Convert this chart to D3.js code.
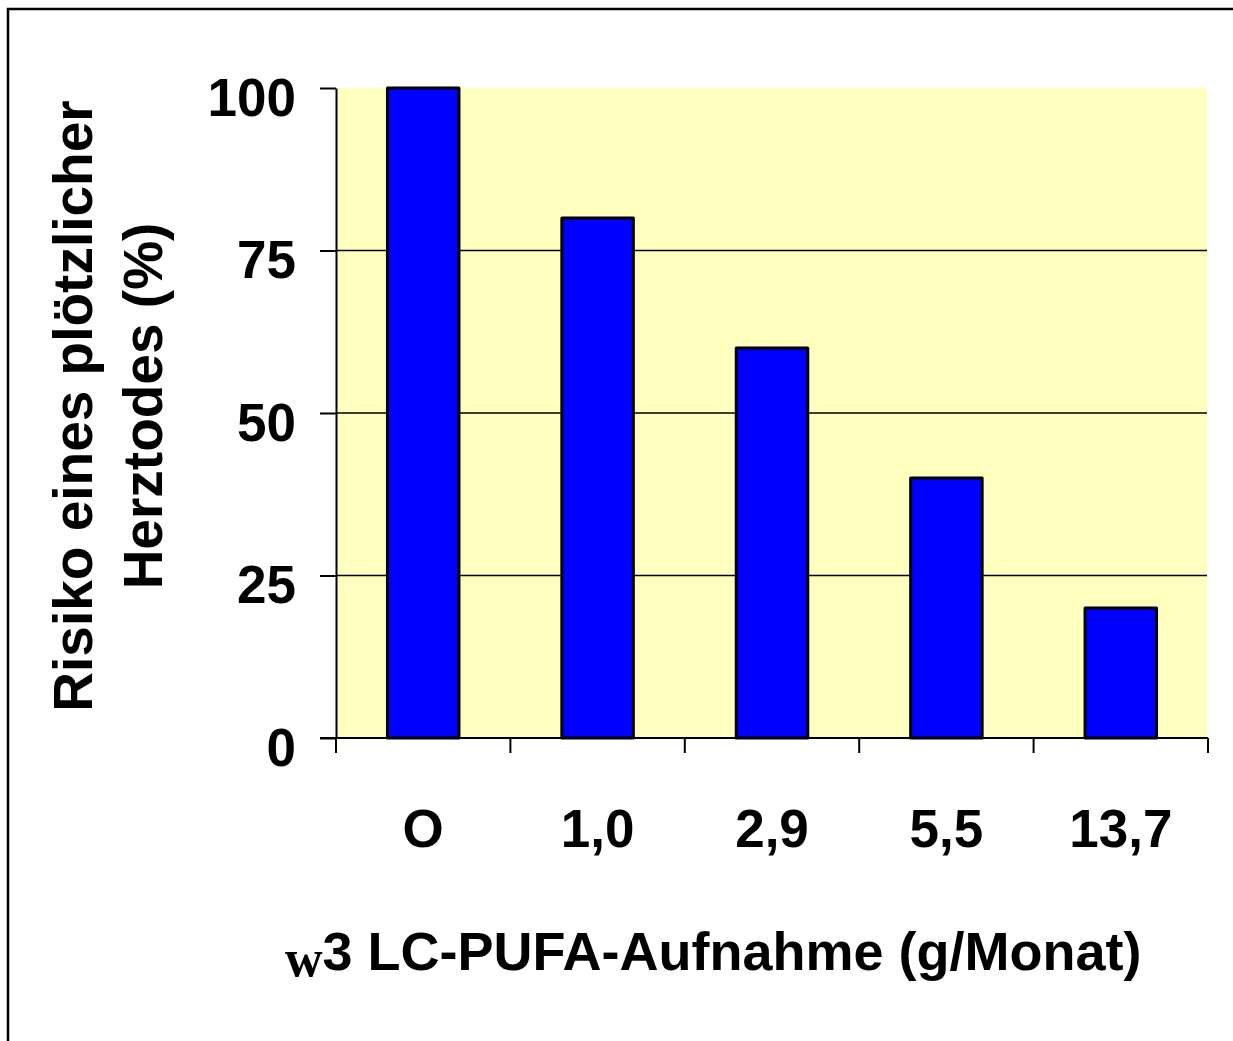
<!DOCTYPE html>
<html>
<head>
<meta charset="utf-8">
<script src="https://cdn.jsdelivr.net/npm/d3@7"></script>
<style>
  body { margin: 0; background: #fff; }
  svg text { font-family: "Liberation Sans", Arial, sans-serif; font-weight: bold; fill: #000; }
</style>
</head>
<body>
<div id="chart"></div>
<script>
// data
var categories = ["O", "1,0", "2,9", "5,5", "13,7"];
var risk = [100, 80, 60, 40, 20];
var yTicks = [0, 25, 50, 75, 100];
var gridTicks = [25, 50, 75];

var width = 1233, height = 1041;
var plotLeft = 336, plotRight = 1208, plotTop = 88, plotBottom = 738;

var svg = d3.select('#chart').append('svg')
    .attr('width', width)
    .attr('height', height);

// outer frame (runs off the right and bottom edge)
svg.append('rect')
    .attr('x', 8).attr('y', 9)
    .attr('width', 1400).attr('height', 1200)
    .attr('fill', 'none')
    .attr('stroke', '#000')
    .attr('stroke-width', 2.5);

var x = d3.scaleBand()
    .domain(categories)
    .range([plotLeft, plotRight])
    .padding(0);

var y = d3.scaleLinear()
    .domain([0, 100])
    .range([plotBottom, plotTop]);

// plot background
svg.append('rect')
    .attr('x', plotLeft).attr('y', y(100))
    .attr('width', plotRight - plotLeft - 1)
    .attr('height', y(0) - y(100))
    .attr('fill', '#FFFFC0');

// gridlines
svg.selectAll('.grid')
    .data(gridTicks)
    .enter().append('line')
    .attr('x1', plotLeft).attr('x2', plotRight - 1)
    .attr('y1', function(d) { return y(d); })
    .attr('y2', function(d) { return y(d); })
    .attr('stroke', '#000')
    .attr('stroke-width', 1.5);

// bars
var barW = x.bandwidth() * 0.41;
svg.selectAll('.bar')
    .data(risk)
    .enter().append('rect')
    .attr('class', 'bar')
    .attr('x', function(d, i) { return x(categories[i]) + (x.bandwidth() - barW) / 2; })
    .attr('y', function(d) { return y(d); })
    .attr('width', barW)
    .attr('height', function(d) { return y(0) - y(d); })
    .attr('fill', '#0000FF')
    .attr('stroke', '#000')
    .attr('stroke-width', 3)
    .attr('stroke-linejoin', 'round');

// y axis
var yAxis = svg.append('g')
    .attr('transform', 'translate(' + plotLeft + ',0)')
    .call(d3.axisLeft(y).tickValues(yTicks).tickSize(16).tickSizeOuter(0).tickPadding(24));
yAxis.select('.domain').attr('stroke-width', 2);
yAxis.selectAll('.tick line').attr('stroke-width', 2);
yAxis.selectAll('.tick text')
    .attr('font-size', 53)
    .attr('dy', '0.51em');

// x axis: labels centred in bands, ticks on band edges
var xAxis = svg.append('g')
    .attr('transform', 'translate(0,' + plotBottom + ')')
    .call(d3.axisBottom(x).tickSize(0).tickPadding(71));
xAxis.select('.domain').remove();
xAxis.selectAll('.tick text').attr('font-size', 53);

svg.append('line')
    .attr('x1', plotLeft - 16).attr('x2', plotRight)
    .attr('y1', plotBottom).attr('y2', plotBottom)
    .attr('stroke', '#000').attr('stroke-width', 2);

var edges = categories.map(function(c) { return x(c); }).concat([plotRight]);
svg.selectAll('.xtick')
    .data(edges)
    .enter().append('line')
    .attr('x1', function(d) { return d; })
    .attr('x2', function(d) { return d; })
    .attr('y1', plotBottom).attr('y2', plotBottom + 15)
    .attr('stroke', '#000').attr('stroke-width', 2);

// y axis title
var yTitle = ["Risiko eines plötzlicher", "Herztodes (%)"];
svg.selectAll('.ytitle')
    .data(yTitle)
    .enter().append('text')
    .attr('transform', function(d, i) { return 'translate(' + (92 + i * 70) + ',406) rotate(-90)'; })
    .attr('text-anchor', 'middle')
    .attr('font-size', 55)
    .text(function(d) { return d; });

// x axis title
var xt = svg.append('text')
    .attr('x', 285)
    .attr('y', 970)
    .attr('font-size', 54);
xt.append('tspan')
    .attr('font-family', '"Liberation Serif", "Times New Roman", serif')
    .attr('font-size', 52)
    .attr('dy', 6)
    .text('w');
xt.append('tspan')
    .attr('dy', -6)
    .text('3 LC-PUFA-Aufnahme (g/Monat)');
</script>
</body>
</html>
